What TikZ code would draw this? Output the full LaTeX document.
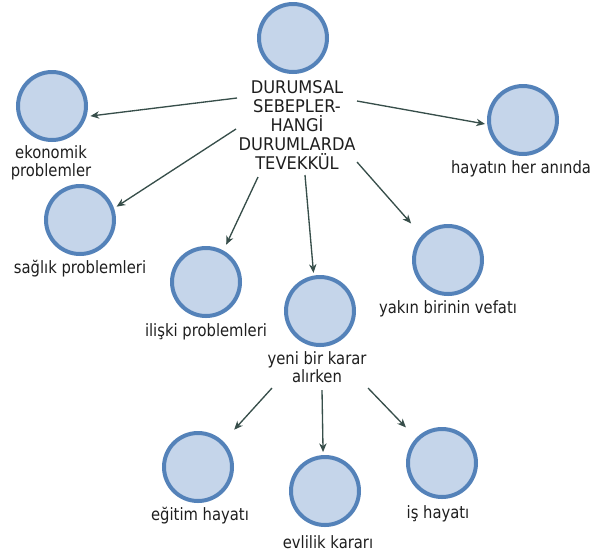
\documentclass[tikz,border=0pt]{standalone}
\usepackage{fontspec}
\setmainfont{DejaVu Sans}
\newfontfamily\lblfont[FakeStretch=0.87]{DejaVu Sans}
\newfontfamily\capfont[FakeStretch=0.93]{DejaVu Sans}
\usetikzlibrary{arrows.meta}
\definecolor{circfill}{RGB}{197,213,234}
\definecolor{circline}{RGB}{84,130,185}
\definecolor{arrcol}{RGB}{55,78,74}
\definecolor{txtcol}{RGB}{30,30,30}
\begin{document}
\begin{tikzpicture}[x=0.75pt,y=0.75pt,
  bubble/.style={circle,draw=circline,fill=circfill,line width=3pt,minimum size=51pt,inner sep=0pt},
  lbl/.style={font=\lblfont\fontsize{12.75}{13.5}\selectfont,inner sep=0pt,align=center,text=txtcol},
  caplbl/.style={font=\capfont\fontsize{13.1}{14.25}\selectfont,inner sep=0pt,align=center,text=txtcol},
  link/.style={draw=arrcol,line width=1pt,-{Stealth[length=6.5pt,width=5.5pt,inset=2pt]}}]
\useasboundingbox (0,0) rectangle (592,-551);
% circles
\node[bubble] (top) at (293,-38) {};
\node[bubble] (eko) at (52,-106) {};
\node[bubble] (sag) at (80,-220) {};
\node[bubble] (hay) at (523,-120) {};
\node[bubble] (ili) at (206,-282) {};
\node[bubble] (yeni) at (320,-311) {};
\node[bubble] (yak) at (448,-260) {};
\node[bubble] (egi) at (198,-467) {};
\node[bubble] (evl) at (325,-491) {};
\node[bubble] (is) at (442,-463) {};
% labels
\node[caplbl] (topl) at (297,-125) {DURUMSAL\\SEBEPLER-\\HANGİ\\DURUMLARDA\\TEVEKKÜL};
\node[lbl] (ekol) at (51,-162.6) {ekonomik\\problemler};
\node[lbl,anchor=base] (sagl) at (80,-273) {sağlık problemleri};
\node[lbl,anchor=base] (hayl) at (521,-173) {hayatın her anında};
\node[lbl,anchor=base] (ilil) at (206,-336) {ilişki problemleri};
\node[lbl,anchor=base] (yakl) at (448,-313) {yakın birinin vefatı};
\node[lbl] (yenil) at (317,-367.5) {yeni bir karar\\alırken};
\node[lbl,anchor=base] (egil) at (200,-520) {eğitim hayatı};
\node[lbl,anchor=base] (evll) at (328,-548) {evlilik kararı};
\node[lbl,anchor=base] (isl) at (438,-518) {iş hayatı};
% arrow start points
\coordinate (s1) at (237,-98);
\coordinate (s2) at (236,-129);
\coordinate (s3) at (357,-101);
\coordinate (s4) at (258,-177);
\coordinate (s5) at (305,-175);
\coordinate (s6) at (357,-162);
\coordinate (s7) at (272,-388);
\coordinate (s8) at (322,-390);
\coordinate (s9) at (368,-388);
% arrows
\draw[link,shorten >=3pt] (s1) -- (eko.-17.5);
\draw[link,shorten >=2.25pt] (s2) -- (sag.19.4);
\draw[link,shorten >=1.7pt] (s3) -- (hay.187.5);
\draw[link,shorten >=4.8pt] (s4) -- (ili.61);
\draw[link,shorten >=2pt] (s5) -- (yeni.100.4);
\draw[link,shorten >=12pt] (s6) -- (yak.137.4);
\draw[link,shorten >=12pt] (s7) -- (egi.45);
\draw[link,shorten >=2.25pt] (s8) -- (evl.93);
\draw[link,shorten >=11pt] (s9) -- (is.136.6);
\end{tikzpicture}
\end{document}
